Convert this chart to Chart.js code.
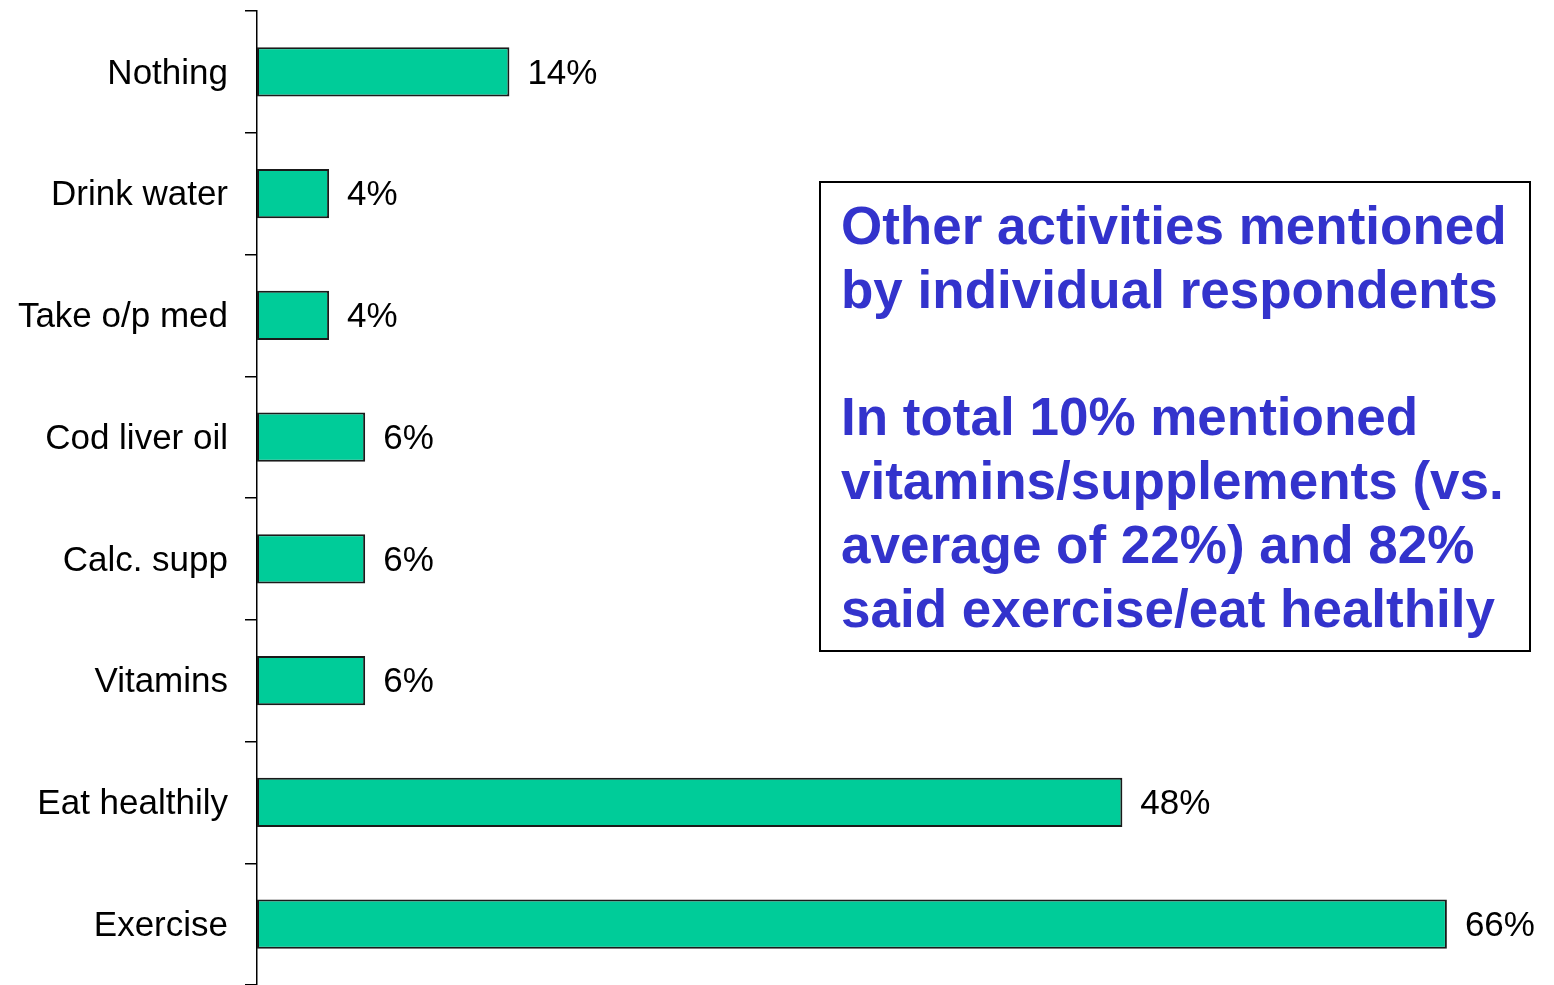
<!DOCTYPE html>
<html>
<head>
<meta charset="utf-8">
<title>Activities</title>
<script src="https://cdn.jsdelivr.net/npm/chart.js"></script>
<style>
  html, body { margin: 0; padding: 0; background: #fff; }
  #wrap { width: 1554px; height: 985px; position: relative; }
</style>
</head>
<body>
<div id="wrap"><canvas id="chart"></canvas></div>
<script>
// dados
const categories = ['Nothing', 'Drink water', 'Take o/p med', 'Cod liver oil', 'Calc. supp', 'Vitamins', 'Eat healthily', 'Exercise'];
const values = [14, 4, 4, 6, 6, 6, 48, 66];
const noteLines = [
  'Other activities mentioned',
  'by individual respondents',
  '',
  'In total 10% mentioned',
  'vitamins/supplements (vs.',
  'average of 22%) and 82%',
  'said exercise/eat healthily'
];

const FONT = '"Liberation Sans", Arial, sans-serif';

// rótulos de valor ao lado das barras
const valueLabels = {
  id: 'valueLabels',
  afterDatasetsDraw(chart) {
    const ctx = chart.ctx;
    const meta = chart.getDatasetMeta(0);
    ctx.save();
    ctx.font = `35px ${FONT}`;
    ctx.fillStyle = '#000';
    ctx.textAlign = 'left';
    ctx.textBaseline = 'middle';
    meta.data.forEach((bar, i) => {
      ctx.fillText(values[i] + '%', bar.x + 18, bar.y + 2);
    });
    ctx.restore();
  }
};

// caixa de texto azul
const noteBox = {
  id: 'noteBox',
  afterDraw(chart) {
    const ctx = chart.ctx;
    ctx.save();
    ctx.fillStyle = '#fff';
    ctx.fillRect(820, 182, 710, 469);
    ctx.strokeStyle = '#000';
    ctx.lineWidth = 2;
    ctx.strokeRect(820, 182, 710, 469);
    ctx.font = `bold 53px ${FONT}`;
    ctx.fillStyle = '#3333CC';
    ctx.textAlign = 'left';
    ctx.textBaseline = 'alphabetic';
    noteLines.forEach((line, i) => {
      if (line) ctx.fillText(line, 841, 244 + i * 63.8);
    });
    ctx.restore();
  }
};

new Chart(document.getElementById('chart'), {
  type: 'bar',
  data: {
    labels: categories,
    datasets: [{
      data: values,
      backgroundColor: '#00CC99',
      borderColor: '#1a1a1a',
      borderWidth: 2,
      borderSkipped: false,
      categoryPercentage: 1,
      barPercentage: 0.405
    }]
  },
  options: {
    indexAxis: 'y',
    responsive: true,
    maintainAspectRatio: false,
    animation: false,
    layout: { padding: { top: 11, right: 35, bottom: 0, left: 0 } },
    scales: {
      x: { display: false, min: 0, max: 70 },
      y: {
        afterFit(scale) {
          scale.width = 257;
          scale.paddingTop = 0;
          scale.paddingBottom = 0;
        },
        border: { display: true, color: '#000', width: 1.5 },
        grid: { drawOnChartArea: false, drawTicks: true, tickLength: 12, color: '#000', lineWidth: 1.5 },
        ticks: { color: '#000', padding: 17, labelOffset: 2, font: { family: FONT, size: 35 } }
      }
    },
    plugins: {
      legend: { display: false },
      tooltip: { enabled: false }
    }
  },
  plugins: [valueLabels, noteBox]
});
</script>
</body>
</html>
